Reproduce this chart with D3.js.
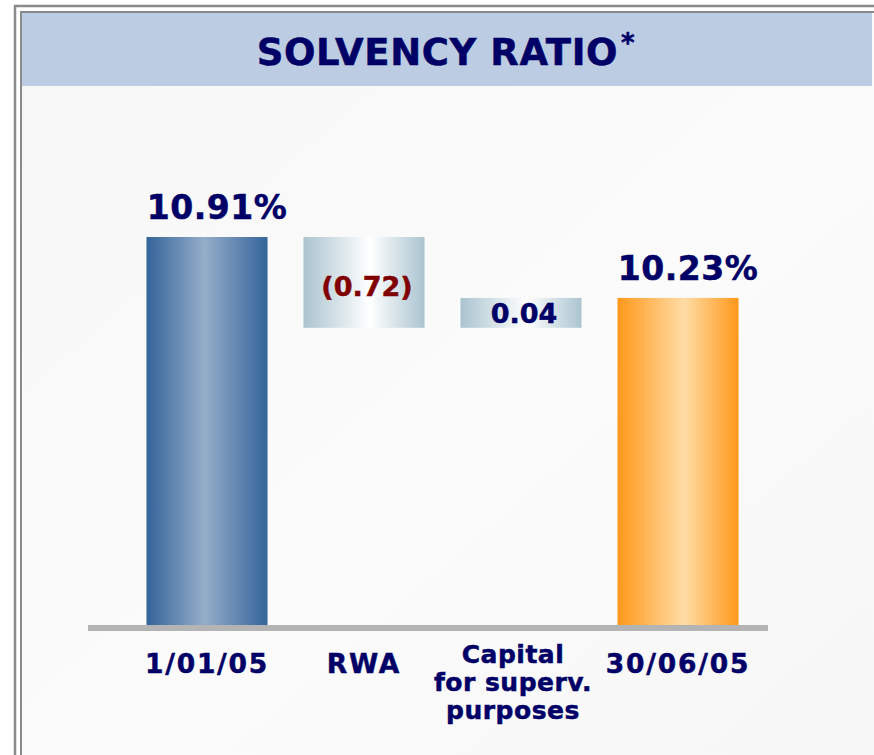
<!DOCTYPE html>
<html>
<head>
<meta charset="utf-8">
<script src="https://cdn.jsdelivr.net/npm/d3@7"></script>
<style>
  html, body { margin: 0; padding: 0; background: #fff; }
  svg { display: block; }
  text { font-family: "DejaVu Sans", Verdana, sans-serif; font-weight: bold; stroke-width: 0.5; }
</style>
</head>
<body>
<svg id="chart" width="874" height="755"></svg>
<script>
// data
const categories  = ["1/01/05", "RWA", "Capital\nfor superv.\npurposes", "30/06/05"];
const values      = [10.91, -0.72, 0.04, 10.23];
const kinds       = ["total", "delta", "delta", "total"];
const valueLabels = ["10.91%", "(0.72)", "0.04", "10.23%"];

const W = 874, H = 755;
const svg = d3.select("#chart");
const defs = svg.append("defs");
const r2 = v => Math.round(v * 100) / 100;

// horizontal "cylinder" gradients
function hGrad(id, edge, mid, at) {
  const g = defs.append("linearGradient").attr("id", id)
    .attr("x1", "0%").attr("x2", "100%").attr("y1", "0%").attr("y2", "0%");
  g.append("stop").attr("offset", "0%").attr("stop-color", edge);
  g.append("stop").attr("offset", at).attr("stop-color", mid);
  g.append("stop").attr("offset", "100%").attr("stop-color", edge);
}
hGrad("gBlue", "#34649a", "#95adc9", "48%");
hGrad("gPale", "#abc4d0", "#ffffff", "55%");
hGrad("gOrange", "#ff981a", "#ffdca6", "55%");

const bg = defs.append("linearGradient").attr("id", "gBg")
  .attr("x1", "0%").attr("y1", "0%").attr("x2", "100%").attr("y2", "100%");
bg.append("stop").attr("offset", "0%").attr("stop-color", "#f7f7f7");
bg.append("stop").attr("offset", "55%").attr("stop-color", "#fbfbfb");
bg.append("stop").attr("offset", "100%").attr("stop-color", "#f6f6f6");

// frame
svg.append("rect").attr("width", W).attr("height", H).attr("fill", "#fff");
svg.append("rect").attr("x", 15).attr("y", 6).attr("width", W).attr("height", H)
  .attr("fill", "none").attr("stroke", "#8a8a8a").attr("stroke-width", 2.5);
svg.append("rect").attr("x", 21).attr("y", 12).attr("width", W).attr("height", H)
  .attr("fill", "url(#gBg)").attr("stroke", "#8a8a8a").attr("stroke-width", 2);
svg.append("rect").attr("x", 22).attr("y", 13).attr("width", 850).attr("height", 73)
  .attr("fill", "#bccde3");

const title = svg.append("text").attr("x", 446).attr("y", 65)
  .attr("text-anchor", "middle").attr("fill", "#000066").attr("stroke", "#000066")
  .attr("font-size", 37).attr("letter-spacing", 0.6);
title.append("tspan").text("SOLVENCY RATIO");
title.append("tspan").attr("font-size", 26).attr("dx", 3).attr("dy", -13).text("*");

// waterfall spans
let run = 0;
const bars = values.map((v, i) => {
  let lo, hi;
  if (kinds[i] === "total") { lo = 0; hi = v; run = v; }
  else { const next = r2(run + v); lo = Math.min(run, next); hi = Math.max(run, next); run = next; }
  return { cat: categories[i], kind: kinds[i], label: valueLabels[i], lo, hi, i };
});

// schematic (broken) value axis: piecewise linear through the running levels
const levels = Array.from(new Set(bars.flatMap(d => [d.lo, d.hi]))).sort((a, b) => a - b);
const plotBottom = 625, plotTop = 237;
const fr = [0, 0.766, 0.843, 1];
const y = d3.scaleLinear()
  .domain(levels)
  .range(fr.map(f => plotBottom - f * (plotBottom - plotTop)));

const x = d3.scaleBand().domain(categories).range([128.5, 756.5])
  .paddingInner(0.229).paddingOuter(0.1145);
const cx = d => x(d.cat) + x.bandwidth() / 2;

const fills = ["url(#gBlue)", "url(#gPale)", "url(#gPale)", "url(#gOrange)"];

svg.selectAll(".bar").data(bars).join("rect")
  .attr("class", "bar")
  .attr("x", d => x(d.cat))
  .attr("y", d => y(d.hi))
  .attr("width", x.bandwidth())
  .attr("height", d => y(d.lo) - y(d.hi))
  .attr("fill", (d, i) => fills[i]);

// baseline
svg.append("rect").attr("x", 88).attr("y", plotBottom).attr("width", 680).attr("height", 6)
  .attr("fill", "#b4b4b4");

// value labels
svg.selectAll(".val").data(bars).join("text")
  .attr("class", "val")
  .attr("text-anchor", "middle")
  .attr("x", d => cx(d) + (d.kind === "total" ? 10 : 3))
  .attr("y", d => {
    if (d.kind === "total") return y(d.hi) - 18;
    const h = y(d.lo) - y(d.hi);
    return y(d.hi) + h / 2 + (h > 60 ? 14 : 10);
  })
  .attr("font-size", d => d.kind === "total" ? 33 : 27)
  .attr("letter-spacing", d => d.kind === "total" ? 0.5 : 0)
  .attr("fill", d => d.label.startsWith("(") ? "#800000" : "#000066")
  .attr("stroke", d => d.label.startsWith("(") ? "#800000" : "#000066")
  .text(d => d.label);

// category labels
const cat = svg.selectAll(".cat").data(bars).join("text")
  .attr("class", "cat")
  .attr("text-anchor", "middle")
  .attr("fill", "#000066").attr("stroke", "#000066")
  .attr("y", d => d.cat.includes("\n") ? 663 : 673);
cat.each(function(d) {
  const lines = d.cat.split("\n");
  const single = lines.length === 1;
  d3.select(this)
    .attr("font-size", single ? 26.5 : 25)
    .attr("letter-spacing", single ? 1.8 : 0.5)
    .selectAll("tspan").data(lines).join("tspan")
    .attr("x", cx(d) + (single ? 0 : -8))
    .attr("dy", (l, j) => j === 0 ? 0 : 28)
    .text(l => l);
});
</script>
</body>
</html>
